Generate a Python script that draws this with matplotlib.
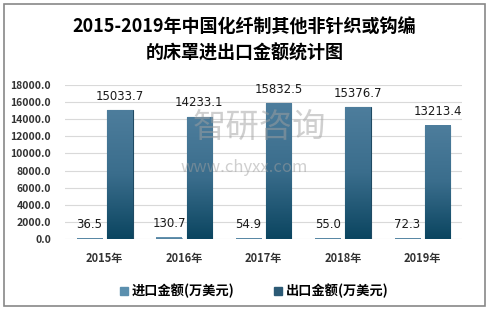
import numpy as np
import matplotlib
matplotlib.use("Agg")
import matplotlib.pyplot as plt
from matplotlib.patches import Rectangle

plt.rcParams['font.family'] = ['Noto Sans CJK SC', 'DejaVu Sans']

years = ['2015年', '2016年', '2017年', '2018年', '2019年']
imports = [36.5, 130.7, 54.9, 55.0, 72.3]
exports = [15033.7, 14233.1, 15832.5, 15376.7, 13213.4]
series_names = ['进口金额(万美元)', '出口金额(万美元)']
yticks = [0, 2000, 4000, 6000, 8000, 10000, 12000, 14000, 16000, 18000]

fig = plt.figure(figsize=(4.89, 3.10), dpi=100)
fig.patches.append(Rectangle((0.008, 0.013), 0.984, 0.974, transform=fig.transFigure,
                             fill=False, edgecolor='#888888', linewidth=1.2))

ax = fig.add_axes([0.133, 0.229, 0.812, 0.497])
x = np.arange(len(years))
w = 0.32
off = 0.19

# gradient fill for bars
grad = np.linspace(0, 1, 100).reshape(-1, 1)
cmap_exp = matplotlib.colors.LinearSegmentedColormap.from_list('e', ['#0b4560', '#3a6d8c', '#4d7d9c'])
cmap_imp = matplotlib.colors.LinearSegmentedColormap.from_list('i', ['#4f7f9c', '#6a98b4'])

bars_i = ax.bar(x - off, imports, w, color='#5b8aa8', edgecolor='#7fa3bb', linewidth=0.6, zorder=3)
bars_e = ax.bar(x + off, exports, w, color='#2e6180', edgecolor='#1f4a63', linewidth=0.8, zorder=3)
for b in bars_e:
    bx, by = b.get_x(), b.get_y()
    ax.imshow(grad, extent=[bx, bx + b.get_width(), by, by + b.get_height()],
              cmap=cmap_exp, aspect='auto', origin='lower', zorder=3.5)
for b in bars_i:
    bx, by = b.get_x(), b.get_y()
    ax.imshow(grad, extent=[bx, bx + b.get_width(), by, by + b.get_height()],
              cmap=cmap_imp, aspect='auto', origin='lower', zorder=3.5)

for xi, v in zip(x - off, imports):
    ax.text(xi, v + 900, f'{v:.1f}', ha='center', va='bottom', fontsize=8.5,
            color='#1a1a1a', family='DejaVu Sans', zorder=5)
for xi, v in zip(x + off, exports):
    ax.text(xi, v + 900, f'{v:.1f}', ha='center', va='bottom', fontsize=8.5,
            color='#1a1a1a', family='DejaVu Sans', zorder=5)

ax.set_xlim(-0.5, len(years) - 0.5)
ax.set_ylim(0, 18000)
ax.set_yticks(yticks)
ax.set_yticklabels([f'{t:.1f}' for t in yticks], fontsize=7.5, fontweight='bold', color='#333333')
ax.set_xticks(x)
ax.set_xticklabels(years, fontsize=8, fontweight='bold', color='#333333')
ax.tick_params(axis='both', length=0)
ax.tick_params(axis='x', pad=9)
ax.tick_params(axis='y', pad=10)
ax.grid(axis='y', color='#d9d9d9', linewidth=0.8, zorder=0)
for s in ax.spines.values():
    s.set_visible(False)

# watermark
fig.text(0.53, 0.59, '智研咨询', fontsize=24, color='#a0a0a0', alpha=0.5, ha='center', va='center')
fig.text(0.5, 0.46, 'www.chyxx.com', fontsize=12, color='#a0a0a0', alpha=0.5, ha='center', va='center')

fig.text(0.5, 0.912, '2015-2019年中国化纤制其他非针织或钩编', fontsize=13, fontweight='bold',
         ha='center', va='center', color='#000000')
fig.text(0.5, 0.828, '的床罩进出口金额统计图', fontsize=13, fontweight='bold',
         ha='center', va='center', color='#000000')

handles = [Rectangle((0, 0), 1, 1, color='#5b8fae'), Rectangle((0, 0), 1, 1, color='#2c5a75')]
fig.legend(handles, series_names, loc='center', bbox_to_anchor=(0.52, 0.06), ncol=2,
           frameon=False, handlelength=0.6, handleheight=0.6,
           handletextpad=0.3, columnspacing=3.0, prop={'weight': 'bold', 'size': 9.5})

fig.savefig('out.png', dpi=100)
